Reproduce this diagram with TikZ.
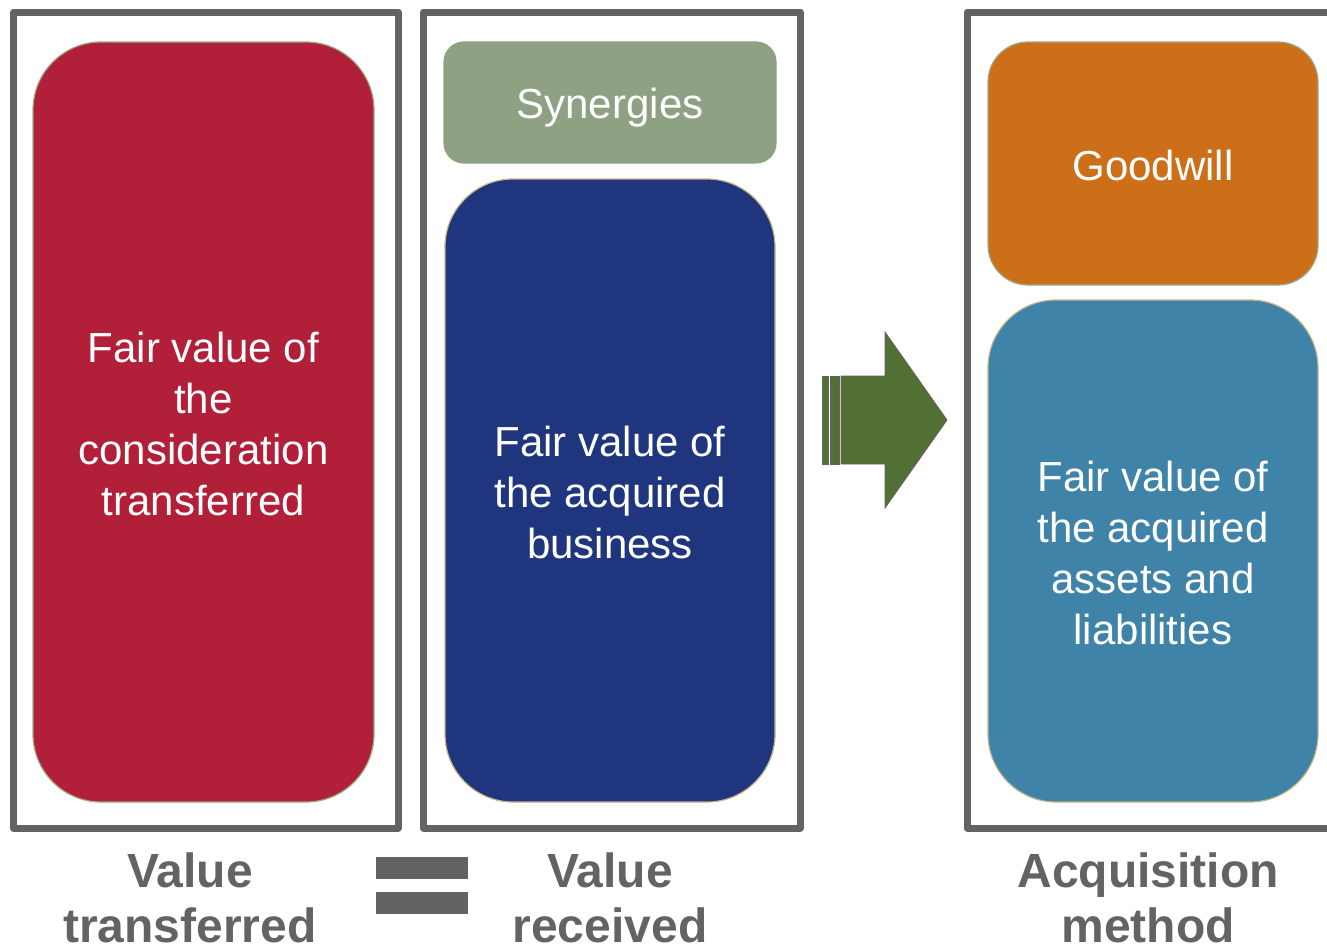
\documentclass[tikz,border=0pt]{standalone}
\usepackage{fontspec}
\setmainfont{Liberation Sans}
\usetikzlibrary{shapes.geometric}
\definecolor{frame}{HTML}{626365}
\definecolor{cred}{HTML}{B11F38}
\definecolor{cgreen}{HTML}{8EA283}
\definecolor{cnavy}{HTML}{1F367E}
\definecolor{corange}{HTML}{CC6F18}
\definecolor{cteal}{HTML}{3F83A8}
\definecolor{carrow}{HTML}{526F34}
\definecolor{edgeg}{HTML}{9BAA85}
\definecolor{edget}{HTML}{C2B484}
\tikzset{
  outerbox/.style={draw=frame, line width=7pt, line join=round},
  innerbox/.style={line width=1.2pt},
  boxtext/.style={text=white, font=\fontsize{42}{51}\selectfont, align=center},
  labeltext/.style={text=frame, font=\fontsize{48}{56}\selectfont\bfseries, anchor=base},
}
\begin{document}
\begin{tikzpicture}[x=1pt,y=-1pt]
\useasboundingbox (0,0) rectangle (1327,946);
\clip (0,0) rectangle (1327,946);
% outer frames
\draw[outerbox] (13.5,12) rectangle (398,828);
\draw[outerbox] (423.5,12) rectangle (800,828);
\draw[outerbox] (1340,12) -- (967,12) -- (967,828) -- (1340,828);
% inner boxes
\draw[innerbox, draw=edgeg, fill=cred, rounded corners=68pt] (33,42) rectangle (374,802);
\node[boxtext] (red) at (203.5,424) {Fair value of\\the\\consideration\\transferred};
\draw[innerbox, draw=cgreen, fill=cgreen, rounded corners=20pt] (444,42) rectangle (776,163);
\node[boxtext] (syn) at (610,108) {Synergies};
\draw[innerbox, draw=edget, fill=cnavy, rounded corners=68pt] (445,179) rectangle (775,802);
\node[boxtext] (blue) at (610,492) {Fair value of\\the acquired\\business};
\draw[innerbox, draw=edgeg, fill=corange, rounded corners=40pt] (988,42) rectangle (1318,285);
\node[boxtext] (gw) at (1153,165) {Goodwill};
\draw[innerbox, draw=edget, fill=cteal, rounded corners=68pt] (988,300) rectangle (1318,802);
\node[boxtext] (teal) at (1153,553) {Fair value of\\the acquired\\assets and\\liabilities};
% arrow
\draw[draw=frame, line width=0.8pt, fill=carrow] (822,376) rectangle (828,464);
\draw[draw=frame, line width=0.8pt, fill=carrow] (830,376) rectangle (839,464);
\draw[draw=frame, line width=0.8pt, fill=carrow] (841,376) -- (885,376) -- (885,332) -- (947,420) -- (885,508) -- (885,464) -- (841,464) -- cycle;
% equals
\fill[frame] (376,857) rectangle (468,879);
\fill[frame] (376,892) rectangle (468,914);
% labels
\node[labeltext] (l1a) at (190,887) {Value};
\node[labeltext] (l1b) at (190,942) {transferred};
\node[labeltext] (l2a) at (610,887) {Value};
\node[labeltext] (l2b) at (610,942) {received};
\node[labeltext] (l3a) at (1148,887) {Acquisition};
\node[labeltext] (l3b) at (1148,942) {method};
\end{tikzpicture}
\end{document}
